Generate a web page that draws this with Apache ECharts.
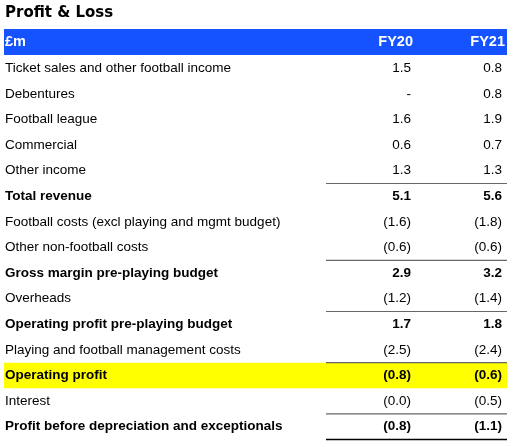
<!DOCTYPE html>
<html><head><meta charset="utf-8">
<script src="https://cdn.jsdelivr.net/npm/echarts@6/dist/echarts.min.js"></script>
<style>html,body{margin:0;padding:0;background:#fff}#c{width:515px;height:447px}</style>
</head><body><div id="c"></div>
<script>
const title = 'Profit & Loss';
const headers = ['£m', 'FY20', 'FY21'];
const labels = ['Ticket sales and other football income','Debentures','Football league','Commercial','Other income','Total revenue','Football costs (excl playing and mgmt budget)','Other non-football costs','Gross margin pre-playing budget','Overheads','Operating profit pre-playing budget','Playing and football management costs','Operating profit','Interest','Profit before depreciation and exceptionals'];
const fy20 = ['1.5','-','1.6','0.6','1.3','5.1','(1.6)','(0.6)','2.9','(1.2)','1.7','(2.5)','(0.8)','(0.0)','(0.8)'];
const fy21 = ['0.8','0.8','1.9','0.7','1.3','5.6','(1.8)','(0.6)','3.2','(1.4)','1.8','(2.4)','(0.6)','(0.5)','(1.1)'];
const boldRows = [5,8,10,12,14];
const highlightRows = [12];
const lineAboveRows = [5,8,10,12,14];

const chart = echarts.init(document.getElementById('c'));
const top0 = 55.5, rh = 25.6, L = 4, R = 507, c1 = 411, c2 = 502, lineX = 326;
const font = 'Liberation Sans, Arial, sans-serif';
const g = [];
g.push({type:'text', left:5, top:6, style:{text:title, font:'bold 15px DejaVu Sans', fill:'#000'}});
g.push({type:'rect', shape:{x:L,y:29,width:R-L,height:26}, style:{fill:'#1453FF'}});
g.push({type:'text', x:5, y:42, style:{text:headers[0], font:'bold 14.5px '+font, fill:'#fff', verticalAlign:'middle'}});
g.push({type:'text', x:c1+2, y:42, style:{text:headers[1], font:'bold 14.5px '+font, fill:'#fff', align:'right', verticalAlign:'middle'}});
g.push({type:'text', x:c2+3, y:42, style:{text:headers[2], font:'bold 14.5px '+font, fill:'#fff', align:'right', verticalAlign:'middle'}});
labels.forEach((lab,i)=>{
  const y0 = top0 + i*rh, cy = y0 + rh/2;
  const b = boldRows.includes(i);
  if (highlightRows.includes(i)) g.push({type:'rect', shape:{x:L,y:y0,width:R-L,height:rh}, style:{fill:'#FFFF00'}});
  if (lineAboveRows.includes(i)) g.push({type:'line', shape:{x1:lineX,y1:y0,x2:R,y2:y0}, style:{stroke:'#666',lineWidth:1.2}});
  const f = (b?'bold ':'')+'13.5px '+font;
  g.push({type:'text', x:5, y:cy, style:{text:lab, font:f, fill:'#000', verticalAlign:'middle'}});
  g.push({type:'text', x:c1, y:cy, style:{text:fy20[i], font:f, fill:'#000', align:'right', verticalAlign:'middle'}});
  g.push({type:'text', x:c2, y:cy, style:{text:fy21[i], font:f, fill:'#000', align:'right', verticalAlign:'middle'}});
});
const yb = top0 + labels.length*rh;
g.push({type:'line', shape:{x1:lineX,y1:yb,x2:R,y2:yb}, style:{stroke:'#000',lineWidth:1.5}});
chart.setOption({animation:false, graphic:g});
</script></body></html>
